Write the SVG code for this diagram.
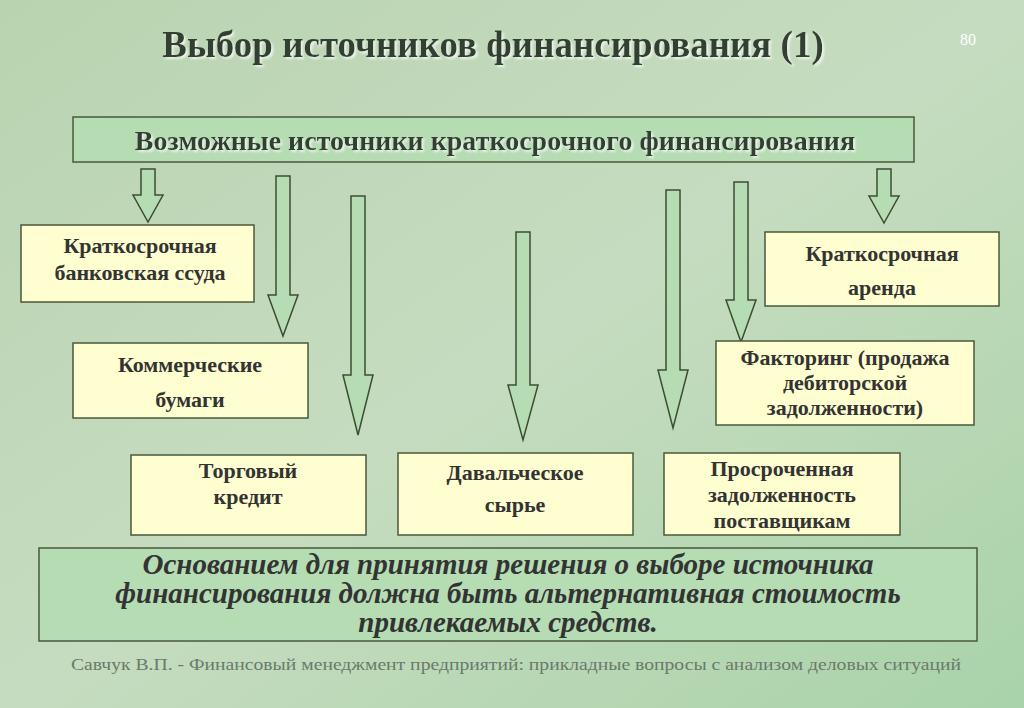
<svg xmlns="http://www.w3.org/2000/svg" width="1024" height="708" viewBox="0 0 1024 708">
<defs>
<linearGradient id="bg" x1="0" y1="0" x2="1" y2="1">
<stop offset="0" stop-color="#b9d3b0"/><stop offset="0.5" stop-color="#c6dcc0"/><stop offset="1" stop-color="#a9d3a8"/>
</linearGradient>
<filter id="sh"><feDropShadow dx="2" dy="2" stdDeviation="0.8" flood-color="#ffffff" flood-opacity="0.7"/></filter>
</defs>
<style>
.box{fill:#fefed0;stroke:#4a5a3a;stroke-width:1.5}
.gbox{fill:#b5dcb3;stroke:#4a5a3a;stroke-width:1.5}
.arr{fill:#b5dcb3;stroke:#3d4d33;stroke-width:1.5}
.t{font-family:"Liberation Serif",serif;font-weight:bold;font-size:22px;fill:#333333;text-anchor:middle}
.h{font-family:"Liberation Serif",serif;font-weight:bold;font-size:28px;fill:#334033;text-anchor:middle;filter:url(#sh)}
.b{font-family:"Liberation Serif",serif;font-weight:bold;font-style:italic;font-size:29px;fill:#333333;text-anchor:middle}
</style>
<rect width="1024" height="708" fill="url(#bg)"/>
<text x="493" y="57" font-family="Liberation Serif,serif" font-weight="bold" font-size="37" fill="#334033" text-anchor="middle" filter="url(#sh)">Выбор источников финансирования (1)</text>
<text x="968" y="45" font-family="Liberation Serif,serif" font-size="16" fill="#ffffff" text-anchor="middle">80</text>
<g id="header"><rect class="gbox" x="73" y="117" width="841" height="45"/><text class="h" x="495" y="150">Возможные источники краткосрочного финансирования</text></g>
<g id="connectors">
<path class="arr" d="M141,169H155V195H163L148,222L133,195H141Z"/>
<path class="arr" d="M276,176H290V295H298L283,336L268,295H276Z"/>
<path class="arr" d="M351,196H365V375H373L358,435L343,375H351Z"/>
<path class="arr" d="M516,232H530V385H538L523,440L508,385H516Z"/>
<path class="arr" d="M666,190H680V370H688L673,428L658,370H666Z"/>
<path class="arr" d="M734,182H748V300H756L741,342L726,300H734Z"/>
<path class="arr" d="M877,169H891V196H899L884,223L869,196H877Z"/>
</g>
<g id="n1"><rect class="box" x="21" y="225" width="233" height="77"/><text class="t" x="140" y="253">Краткосрочная</text><text class="t" x="140" y="280">банковская ссуда</text></g>
<g id="n2"><rect class="box" x="73" y="343" width="235" height="75"/><text class="t" x="190" y="372">Коммерческие</text><text class="t" x="190" y="407">бумаги</text></g>
<g id="n3"><rect class="box" x="131" y="455" width="235" height="80"/><text class="t" x="248" y="478">Торговый</text><text class="t" x="248" y="504">кредит</text></g>
<g id="n4"><rect class="box" x="398" y="453" width="235" height="82"/><text class="t" x="515" y="480">Давальческое</text><text class="t" x="515" y="512">сырье</text></g>
<g id="n5"><rect class="box" x="664" y="453" width="236" height="82"/><text class="t" x="782" y="476">Просроченная</text><text class="t" x="782" y="502">задолженность</text><text class="t" x="782" y="528">поставщикам</text></g>
<g id="n6"><rect class="box" x="765" y="232" width="234" height="74"/><text class="t" x="882" y="261">Краткосрочная</text><text class="t" x="882" y="295">аренда</text></g>
<g id="n7"><rect class="box" x="716" y="341" width="258" height="84"/><text class="t" x="845" y="365">Факторинг (продажа</text><text class="t" x="845" y="390">дебиторской</text><text class="t" x="845" y="415">задолженности)</text></g>
<g id="bottom"><rect class="gbox" x="39" y="548" width="938" height="93"/>
<text class="b" x="508" y="574">Основанием для принятия решения о выборе источника</text>
<text class="b" x="508" y="603">финансирования должна быть альтернативная стоимость</text>
<text class="b" x="508" y="632">привлекаемых средств.</text></g>
<text x="516" y="670" font-family="Liberation Serif,serif" font-size="17" fill="#6a7a6a" text-anchor="middle" textLength="890" lengthAdjust="spacingAndGlyphs">Савчук В.П. - Финансовый менеджмент предприятий: прикладные вопросы с анализом деловых ситуаций</text>
</svg>
